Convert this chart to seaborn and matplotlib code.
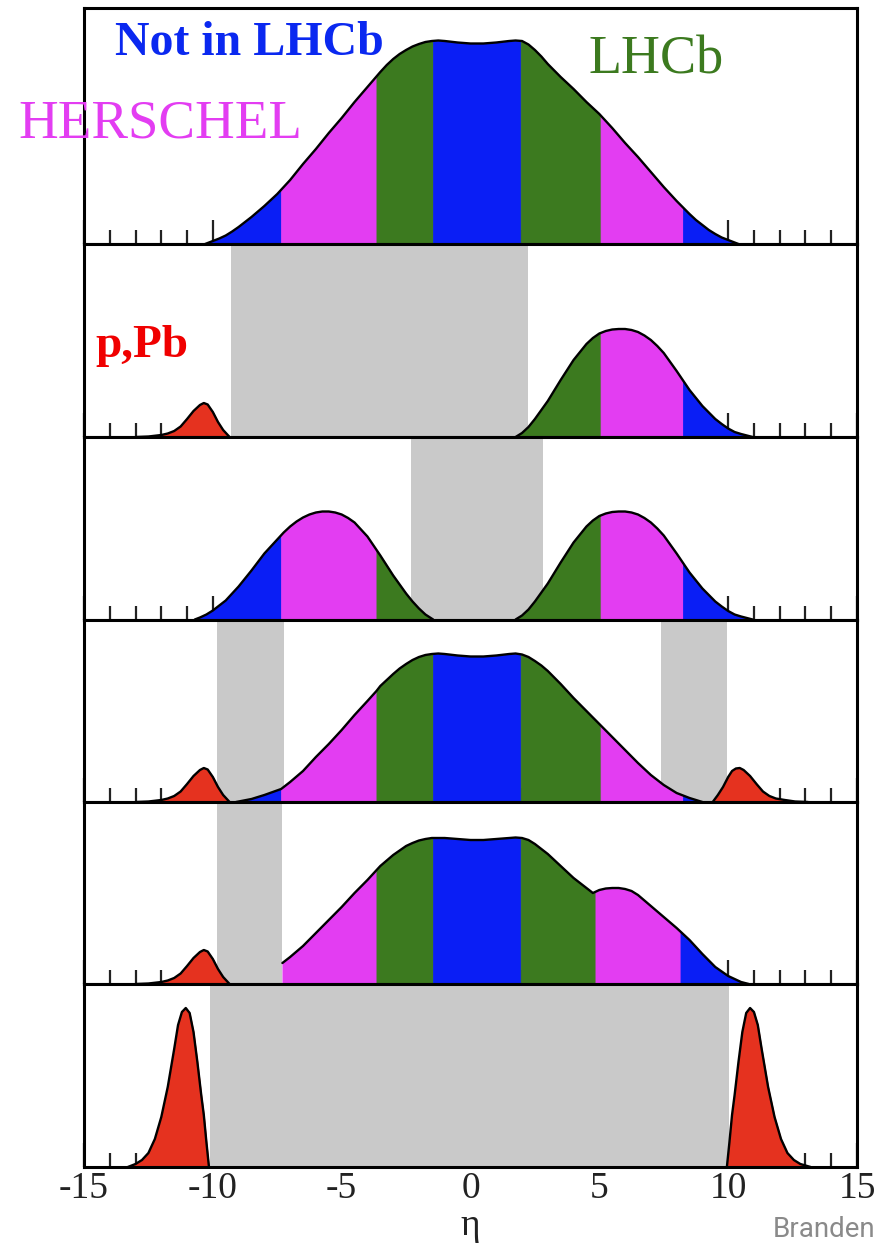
import numpy as np
import pandas as pd
import matplotlib
matplotlib.use("Agg")
import matplotlib.pyplot as plt
import seaborn as sns
from matplotlib.ticker import MultipleLocator

# ---------------- colours ----------------
BLUE = "#0A1EF5"
MAGENTA = "#E33DF2"
GREEN = "#3C7A1F"
RED = "#E5321F"
GREY = "#C9C9C9"

# ---------------- data (eta, height) ----------------
ETA_TICKS = [-15, -10, -5, 0, 5, 10, 15]
TICK_LABELS = ["-15", "-10", "-5", "0", "5", "10", "15"]

# panel 1: full central distribution
p1_eta = [-10.3, -10, -9.75, -9.5, -9.25, -9, -8.75, -8.5, -8.25, -8, -7.5, -7, -6.5, -6, -5.5, -5, -4.5, -4,
          -3.5, -3.25, -3, -2.75, -2.5, -2.25, -2, -1.75, -1.5, -1.25, -1, -0.5,
          0, 0.5, 1, 1.5, 1.75, 2, 2.25, 2.5, 2.75, 3, 3.5, 4, 4.5, 5, 5.5, 6, 6.5, 7, 7.5, 8, 8.5,
          8.75, 9, 9.25, 9.5, 9.75, 10, 10.4]
p1_h = [0, 3, 5.5, 8.5, 12.5, 17, 22, 27, 32.5, 38, 50, 64, 80, 95, 111, 126, 142, 157,
        172, 179, 185, 190, 194, 197.5, 200, 202, 203, 203.5, 203, 201.5,
        200.5, 200.5, 201.5, 203, 203.5, 203, 199.5, 194, 187.5, 180, 167, 155, 142, 130, 116, 101, 87, 72, 57, 43, 30,
        24, 19, 14, 10, 6.5, 4, 0]
p1_edges = [-10.3, -7.35, -3.65, -1.45, 1.95, 5.05, 8.25, 10.4]
p1_colors = [BLUE, MAGENTA, GREEN, BLUE, GREEN, MAGENTA, BLUE]

# forward bump (panels 2 and 3, right)
fwd_eta = [1.75, 2, 2.25, 2.5, 3, 3.5, 4, 4.5, 4.75, 5, 5.25, 5.5, 5.75, 6, 6.25, 6.5, 6.75, 7, 7.25, 7.5,
           8, 8.5, 9, 9.5, 9.75, 10, 10.25, 10.5, 10.95]
fwd_h = [0, 4, 10, 18, 36, 57, 77, 93, 99, 103.5, 106, 107.5, 108, 108, 107, 105, 101.5, 97, 91, 84,
         66, 47, 31, 18, 13, 8.5, 5, 3, 0]
fwd_edges = [1.75, 5.05, 8.25, 10.95]
fwd_colors = [GREEN, MAGENTA, BLUE]

# backward bump (panel 3, left)
bwd_eta = [-10.7, -10.5, -10.25, -10, -9.5, -9, -8.5, -8, -7.5, -7.25, -7, -6.75, -6.5, -6.25, -6, -5.75, -5.5,
           -5.25, -5, -4.75, -4.5, -4, -3.5, -3, -2.5, -2.25, -2, -1.75, -1.45]
bwd_h = [0, 2, 5, 9, 19, 33, 49, 66, 80, 87, 93, 98, 102, 105, 107, 108, 108,
         107, 105, 101.5, 97, 83, 64, 44, 26, 18, 11, 5, 0]
bwd_edges = [-10.7, -7.35, -3.65, -1.45]
bwd_colors = [BLUE, MAGENTA, GREEN]

# panel 4: narrower central distribution
p4_eta = [-9.1, -8.5, -8, -7.35, -7, -6.5, -6, -5.5, -5, -4.5, -4, -3.65, -3.5, -3.25, -3, -2.75, -2.5, -2.25, -2,
          -1.75, -1.5, -1.25, -1, -0.5, 0, 0.5, 1, 1.5, 1.75, 2, 2.25, 2.5, 2.75, 3, 3.5, 4, 4.5, 5, 5.5, 6, 6.5,
          7, 7.5, 8, 8.5, 9.0]
p4_h = [0, 3, 7, 13, 20, 31, 45, 58, 72, 87, 101, 111, 116, 122, 128, 133.5, 138, 142, 145,
        147, 148, 148.5, 148, 146.5, 145.5, 145.5, 146.5, 148, 148.5, 147.5, 145, 141, 136.5, 131, 118, 104, 91, 78,
        65, 52, 39, 27, 17, 9, 4, 0]
p4_edges = [-9.1, -7.35, -3.65, -1.45, 1.95, 5.05, 8.25, 9.0]
p4_colors = [BLUE, MAGENTA, GREEN, BLUE, GREEN, MAGENTA, BLUE]

# panel 5: truncated central distribution with forward shoulder
p5_eta = [-7.3, -7, -6.5, -6, -5.5, -5, -4.5, -4, -3.5, -3, -2.5, -2.25, -2, -1.75, -1.5, -1, -0.5,
          0, 0.5, 1, 1.5, 1.75, 2, 2.25, 2.5, 3, 3.5, 4, 4.5, 4.75, 5, 5.25, 5.5, 5.75, 6, 6.25, 6.5, 7, 7.5, 8,
          8.5, 9, 9.5, 10, 10.5, 10.8]
p5_h = [21, 27, 38, 51, 64, 77, 91, 104, 118, 129, 138, 141, 143.5, 145, 146, 146, 145,
        144, 144, 145, 146, 146.5, 146, 144, 140, 130, 118, 106, 96, 91, 94, 95.5, 96, 96, 95, 93, 89, 78, 67, 56,
        44, 30, 17, 8, 2, 0]
p5_edges = [-7.3, -3.65, -1.45, 1.95, 4.85, 8.15, 10.8]
p5_colors = [MAGENTA, GREEN, BLUE, GREEN, MAGENTA, BLUE]

# small red bumps (p,Pb)
redL_eta = [-13, -12.5, -12, -11.75, -11.5, -11.25, -11, -10.75, -10.5, -10.35, -10.2, -10, -9.8, -9.6, -9.35]
redL_h = [0, 0.5, 2, 3.5, 6, 10.5, 18, 26, 32, 34, 32.5, 25, 15, 7, 0]
redR_eta = [9.4, 9.6, 9.8, 10.0, 10.15, 10.3, 10.45, 10.6, 10.85, 11.1, 11.35, 11.6, 11.85, 12.2, 12.6, 13.1]
redR_h = [0, 7, 15, 25, 31, 33.5, 34, 32, 26, 18, 10.5, 6, 3.5, 2, 0.5, 0]

# large red peaks (panel 6)
bigL_eta = [-13.3, -13, -12.75, -12.5, -12.25, -12, -11.75, -11.5, -11.35, -11.2, -11.05, -10.9, -10.75, -10.6,
            -10.45, -10.35, -10.25, -10.15]
bigL_h = [0, 3, 7, 14, 28, 50, 80, 118, 142, 155, 159, 154, 135, 105, 72, 52, 25, 0]
bigR_eta = [9.95, 10.05, 10.15, 10.25, 10.4, 10.55, 10.7, 10.85, 11.0, 11.15, 11.3, 11.55, 11.8, 12.05, 12.3,
            12.55, 12.8, 13.2]
bigR_h = [0, 25, 52, 72, 105, 135, 154, 159, 155, 142, 118, 80, 50, 28, 14, 7, 3, 0]

# grey gap bands per panel
bands_p2 = [(-9.3, 2.25)]
bands_p3 = [(-2.3, 2.8)]
bands_p4 = [(-9.85, -7.25), (7.4, 9.95)]
bands_p5 = [(-9.85, -7.3)]
bands_p6 = [(-10.1, 10.05)]

# ---------------- figure ----------------
sns.set_theme(style="white")
plt.rcParams["font.family"] = ["Liberation Serif", "DejaVu Serif"]

W, H = 877, 1243
fig = plt.figure(figsize=(W / 100, H / 100), dpi=100)
fig.patch.set_facecolor("white")

LEFT_PX, RIGHT_PX = 84, 857
panel_px = [(8, 244), (244, 437), (437, 619.5), (619.5, 802), (802, 984), (984, 1167)]

axes = []
for i, (t, b) in enumerate(panel_px):
    ax = fig.add_axes([LEFT_PX / W, 1 - b / H, (RIGHT_PX - LEFT_PX) / W, (b - t) / H],
                      sharex=axes[0] if axes else None)
    ax.set_xlim(-15, 15)
    ax.set_ylim(0, b - t)
    ax.set_facecolor("white")
    ax.set_yticks([])
    for s in ax.spines.values():
        s.set_visible(True)
        s.set_color("black")
        s.set_linewidth(2.2)
    axes.append(ax)


def draw_curve(ax, eta, h, edges=None, colors=None, fill=None):
    eta = np.asarray(eta, float)
    h = np.asarray(h, float)
    if edges is None:
        edges = [eta[0], eta[-1]]
        colors = [fill]
    for x0, x1, c in zip(edges[:-1], edges[1:], colors):
        inner = eta[(eta > x0) & (eta < x1)]
        xs = np.concatenate([[x0], inner, [x1]])
        ys = np.interp(xs, eta, h)
        ax.fill_between(xs, 0, ys, color=c, lw=0.6, edgecolor=c, zorder=2)
    df = pd.DataFrame({"eta": eta, "h": h})
    sns.lineplot(data=df, x="eta", y="h", ax=ax, color="black", lw=1.7,
                 sort=False, estimator=None, zorder=3)
    ax.set_xlabel("")
    ax.set_ylabel("")


def draw_bands(ax, bands):
    for x0, x1 in bands:
        ax.axvspan(x0, x1, color=GREY, lw=0, zorder=1)


ax1, ax2, ax3, ax4, ax5, ax6 = axes

draw_curve(ax1, p1_eta, p1_h, p1_edges, p1_colors)

draw_bands(ax2, bands_p2)
draw_curve(ax2, redL_eta, redL_h, fill=RED)
draw_curve(ax2, fwd_eta, fwd_h, fwd_edges, fwd_colors)

draw_bands(ax3, bands_p3)
draw_curve(ax3, bwd_eta, bwd_h, bwd_edges, bwd_colors)
draw_curve(ax3, fwd_eta, fwd_h, fwd_edges, fwd_colors)

draw_bands(ax4, bands_p4)
draw_curve(ax4, redL_eta, redL_h, fill=RED)
draw_curve(ax4, redR_eta, redR_h, fill=RED)
draw_curve(ax4, p4_eta, p4_h, p4_edges, p4_colors)

draw_bands(ax5, bands_p5)
draw_curve(ax5, redL_eta, redL_h, fill=RED)
draw_curve(ax5, p5_eta, p5_h, p5_edges, p5_colors)

draw_bands(ax6, bands_p6)
draw_curve(ax6, bigL_eta, bigL_h, fill=RED)
draw_curve(ax6, bigR_eta, bigR_h, fill=RED)

for i, ax in enumerate(axes):
    ax.set_xlim(-15, 15)
    ax.set_ylim(0, panel_px[i][1] - panel_px[i][0])
    ax.xaxis.set_major_locator(MultipleLocator(5))
    ax.xaxis.set_minor_locator(MultipleLocator(1))
    ax.tick_params(axis="x", which="major", direction="in", length=17, width=1.6,
                   color="#222222", bottom=True, top=False, labelbottom=False)
    ax.tick_params(axis="x", which="minor", direction="in", length=10, width=1.6,
                   color="#222222", bottom=True, top=False)
    ax.tick_params(axis="y", left=False, right=False, labelleft=False)

ax6.set_xticks(ETA_TICKS)
ax6.set_xticklabels(TICK_LABELS)
ax6.tick_params(axis="x", which="major", labelbottom=True, labelsize=27, pad=3, labelcolor="#222222")

# ---------------- annotations ----------------
def fy(px):
    return 1 - px / H

fig.text(115 / W, fy(55), "Not in LHCb", color="#0A28F0", fontsize=34.5, fontweight="bold",
         ha="left", va="baseline")
fig.text(18 / W, fy(137), "HERSCHEL", color=MAGENTA, fontsize=39.5, ha="left", va="baseline")
fig.text(588 / W, fy(73), "LHCb", color=GREEN, fontsize=39, ha="left", va="baseline")
fig.text(95 / W, fy(357), "p,Pb", color="#F00000", fontsize=34, fontweight="bold",
         ha="left", va="baseline")
fig.text(470 / W, fy(1235), "η", color="#222222", fontsize=27, ha="center", va="baseline")
fig.text(875 / W, fy(1237), "Branden", color="#8A8A8A", fontsize=20, ha="right", va="baseline",
         family=["Roboto", "DejaVu Sans"])

fig.savefig("out.png", dpi=100, facecolor="white")
